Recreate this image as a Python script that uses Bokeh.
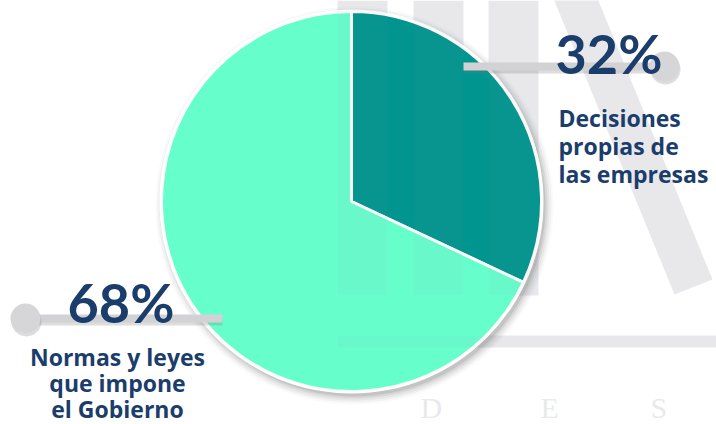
import math
import numpy as np
from bokeh.plotting import figure
from bokeh.models import Range1d
from bokeh.embed import file_html
from bokeh.resources import INLINE
from bokeh.core.properties import value

# ---- data ----
categories = ["Decisiones propias de las empresas", "Normas y leyes que impone el Gobierno"]
shares = [32, 68]
pct_labels = ["32%", "68%"]
label_lines = [["Decisiones", "propias de", "las empresas"],
               ["Normas y leyes", "que impone", "el Gobierno"]]
watermark_letters = ["D", "E", "S"]
colors = ["#00958f", "#66ffcc"]

NAVY = "#1b3d6b"
WM = "#eeeff1"
W, H = 716, 424


def Y(iy):
    return H - iy


p = figure(width=W, height=H, output_backend="svg", toolbar_location=None,
           x_range=Range1d(0, W), y_range=Range1d(0, H), min_border=0)
p.axis.visible = False
p.grid.visible = False
p.outline_line_color = None
p.background_fill_color = "white"
p.border_fill_color = "white"

# ---- watermark (behind) ----
bars_x = [(337, 387), (413, 463), (488, 538)]


def watermark(alpha, color):
    for (x0, x1) in bars_x:
        p.quad(left=x0, right=x1, top=Y(0), bottom=Y(295), fill_color=color,
               fill_alpha=alpha, line_color=None)
    p.quad(left=337, right=716, top=Y(335), bottom=Y(347), fill_color=color,
           fill_alpha=alpha, line_color=None)
    px = [553, 597, 712, 674]
    py = [Y(-2), Y(-2), Y(279), Y(294)]
    p.patch(px, py, fill_color=color, fill_alpha=alpha, line_color=None)


watermark(1.0, WM)
for ch, x in zip(watermark_letters, [420, 540, 650]):
    p.text(x=[x], y=[Y(407)], text=[ch], text_font=value("Liberation Serif"),
           text_font_size="30px", text_color="#e8e9ec", text_align="left",
           text_baseline="alphabetic")

# ---- pie ----
cx, cy, r = 351, Y(201), 190
for k, a in [(9, 0.03), (7, 0.05), (5, 0.07), (3, 0.10), (1, 0.14)]:
    p.circle(x=[cx + 3], y=[cy - 4], radius=r + k, fill_color="#555555",
             fill_alpha=a, line_color=None)
p.circle(x=[cx], y=[cy], radius=r + 2, fill_color="white", line_color=None)

total = float(sum(shares))
cum = np.concatenate([[0], np.cumsum(shares)]) / total
starts = [math.pi / 2 - cum[i + 1] * 2 * math.pi for i in range(len(shares))]
ends = [math.pi / 2 - cum[i] * 2 * math.pi for i in range(len(shares))]
p.wedge(x=cx, y=cy, radius=r, start_angle=starts, end_angle=ends,
        fill_color=colors, line_color="white", line_width=3)

# watermark faintly over the pie
watermark(0.06, "#8a9096")

# ---- labels ----
def connector(x0, x1, iy, cxp):
    p.segment(x0=[x0 + 1], y0=[Y(iy + 3)], x1=[x1], y1=[Y(iy + 3)],
              line_color="#777777", line_alpha=0.25, line_width=8)
    p.segment(x0=[x0], y0=[Y(iy)], x1=[x1], y1=[Y(iy)],
              line_color="#d2d2d4", line_width=8)
    p.circle(x=[cxp + 1], y=[Y(iy + 3)], radius=15, fill_color="#777777",
             fill_alpha=0.25, line_color=None)
    p.circle(x=[cxp], y=[Y(iy)], radius=15, fill_color="#d6d6d8", line_color=None)


connector(463, 664, 66, 664)
connector(25, 222, 318, 25)

p.text(x=[555], y=[Y(53)], text=[pct_labels[0]], text_font=value("Lato"),
       text_font_style="bold", text_font_size="54px", text_color=NAVY,
       text_align="left", text_baseline="alphabetic")
p.text(x=[67], y=[Y(302)], text=[pct_labels[1]], text_font=value("Lato"),
       text_font_style="bold", text_font_size="54px", text_color=NAVY,
       text_align="left", text_baseline="alphabetic")

for i, ln in enumerate(label_lines[0]):
    p.text(x=[558], y=[Y(117 + 28 * i)], text=[ln], text_font=value("Open Sans"),
           text_font_style="bold", text_font_size="23px", text_color=NAVY,
           text_align="left", text_baseline="alphabetic")
for i, ln in enumerate(label_lines[1]):
    p.text(x=[117], y=[Y(356 + 26 * i)], text=[ln], text_font=value("Open Sans"),
           text_font_style="bold", text_font_size="23px", text_color=NAVY,
           text_align="center", text_baseline="alphabetic")

open("out.html", "w").write(file_html(p, INLINE))
